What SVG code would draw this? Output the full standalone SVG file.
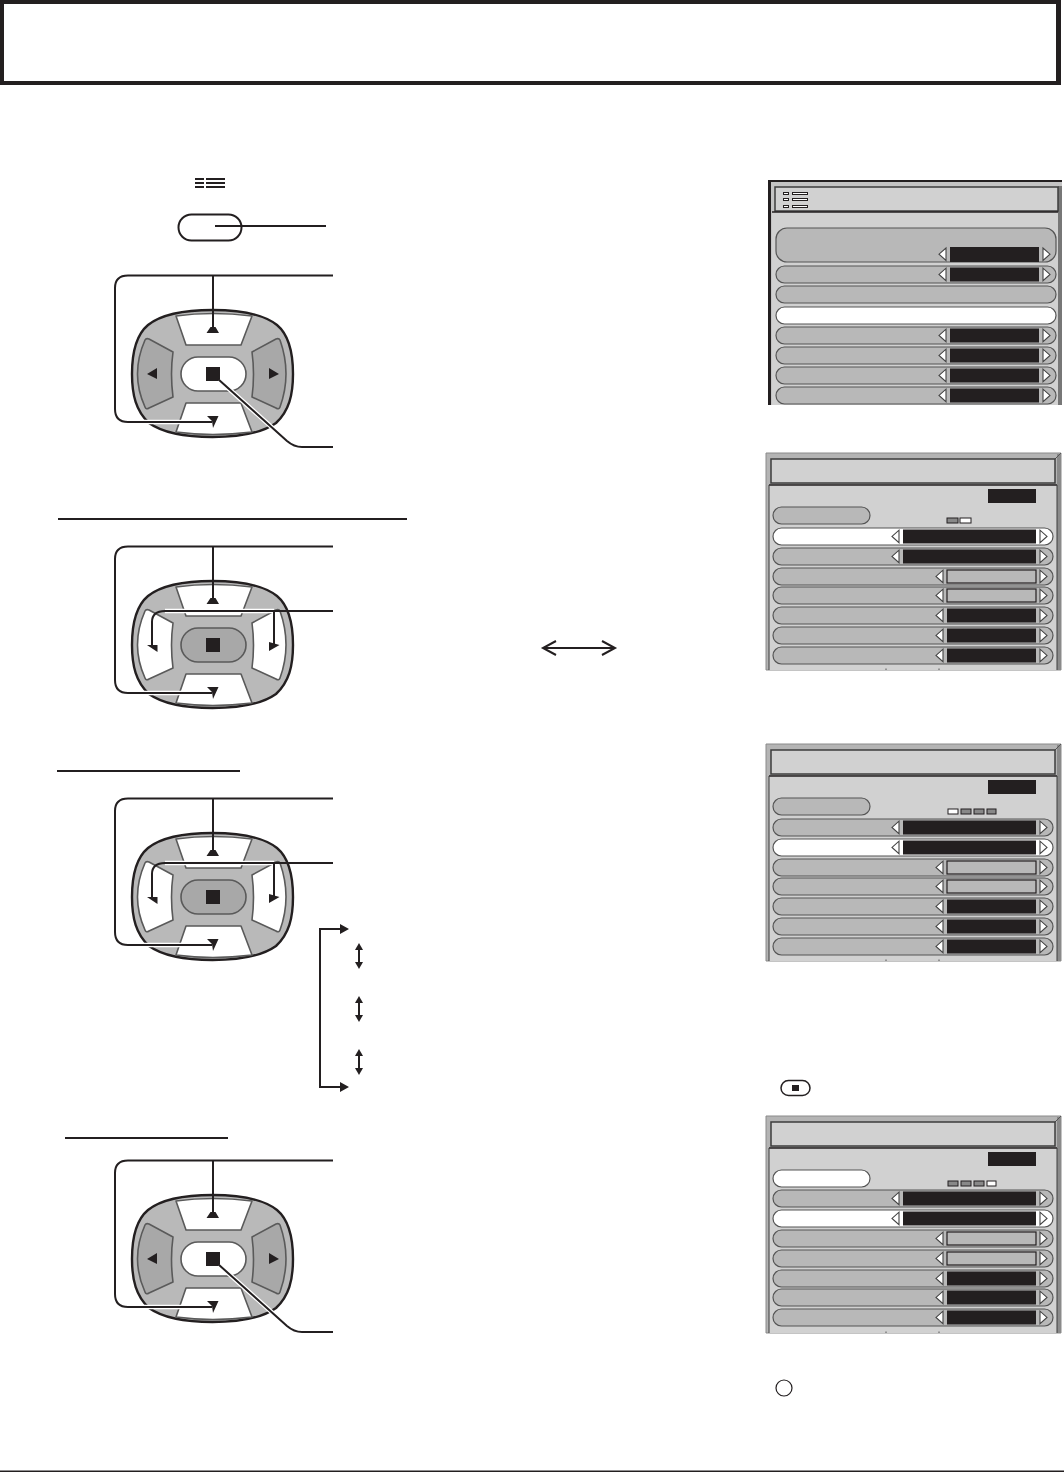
<svg xmlns="http://www.w3.org/2000/svg" width="1064" height="1472" viewBox="0 0 1064 1472">
<style>
.k{fill:#231f20}
.ln{fill:none;stroke:#231f20;stroke-width:2;stroke-linecap:butt}
.halo{fill:none;stroke:#fff;stroke-width:4.500}
.btn{stroke:#5a5a5a;stroke-width:1.600;stroke-linejoin:round}
.w{fill:#fff}
.g{fill:#a8a8a8}
.shell{fill:#b9b9b9;stroke:#231f20;stroke-width:2.400}
.body{fill:#d1d1d1}
.band{fill:#b4b4b4;stroke:#8a8a8a;stroke-width:1}
.title{fill:#d1d1d1;stroke:#3c3c3c;stroke-width:1.500}
.row{fill:#b8b8b8;stroke:#555;stroke-width:1.200}
.rowW{fill:#fff;stroke:#555;stroke-width:1.200}
.arr{fill:#fff;stroke:#444;stroke-width:1.100}
.out{fill:#b8b8b8;stroke:#231f20;stroke-width:1.200}
</style>
<defs>
<path id="shellP" class="shell" d="M212.500 310C238 310 262 313 277 325C289 335 293 354 293 374C293 395 289 411 276 423C262 433 238 437 212.500 437C187 437 163 433 149 423C136 411 132 395 132 374C132 354 136 335 148 325C163 313 187 310 212.500 310Z"/>
<path id="upP" d="M176 316Q212 311 252 316L241 345H186Z"/>
<path id="dnP" d="M186 403H241L252 432Q212 437 176 432Z"/>
<path id="ltP" d="M145 340Q146 338 149 339L173 352Q170 374 173 397L149 408Q146 410 145 407Q130 374 145 340Z"/>
<path id="rtP" d="M280 340Q279 338 276 339L252 352Q255 374 252 397L276 408Q279 410 280 407Q292 374 280 340Z"/>
<rect id="ctP" x="181" y="357" width="65" height="34" rx="17"/>
<g id="padA">
<use href="#shellP"/>
<use href="#upP" class="btn w"/><use href="#dnP" class="btn w"/>
<use href="#ltP" class="btn g"/><use href="#rtP" class="btn g"/>
<use href="#ctP" class="btn w"/>
<rect class="k" x="206" y="367" width="14" height="14"/>
<path class="k" d="M147 374L157 368V379Z M279 374L269 368V379Z"/>
</g>
<g id="padB">
<use href="#shellP"/>
<use href="#upP" class="btn w"/><use href="#dnP" class="btn w"/>
<use href="#ltP" class="btn w"/><use href="#rtP" class="btn w"/>
<use href="#ctP" class="btn g"/>
<rect class="k" x="206" y="367" width="14" height="14"/>
</g>
<g id="updn">
<path class="halo" d="M128 422H205"/>
<path class="ln" d="M333 275.500H128Q115 275.500 115 288V409Q115 422 128 422H212"/>
<path class="ln" d="M213 275.500V327"/>
<path class="k" d="M206.500 333H219L215.500 327H210.500Z M207 416H218.500L213 428L212 421Z"/>
</g>
<g id="lr">
<path class="halo" d="M165 611H274"/>
<path class="ln" d="M333 611H165Q152 611 152 622V646"/>
<path class="ln" d="M274 611V646"/>
<path class="k" d="M147 645L157.500 645V652Z M269 642V651L279.500 645Z"/>
</g>
<g id="ok">
<path class="halo" d="M219 380L286 440"/>
<path class="ln" d="M218 379L287 441Q294 447 302 447H333"/>
</g>
<path id="la" class="arr" d="M7 0V12.500L0 6.200Z"/>
<path id="ra" class="arr" d="M0 0V12.500L7 6.200Z"/>
<rect id="pg" class="row" width="280" height="17" rx="8.500"/>
<rect id="pw" class="rowW" width="280" height="17" rx="8.500"/>
<g id="vw"><use href="#la" x="119" y="2.200"/><rect class="k" x="130" y="1.500" width="133" height="14"/><use href="#ra" x="267" y="2.200"/></g>
<g id="vn"><use href="#la" x="163" y="2.200"/><rect class="k" x="174" y="1.500" width="89" height="14"/><use href="#ra" x="267" y="2.200"/></g>
<g id="vo"><use href="#la" x="163" y="2.200"/><rect class="out" x="174" y="2" width="89" height="13"/><use href="#ra" x="267" y="2.200"/></g>
<g id="frame">
<path class="band" d="M766 453H1061V670H766Z"/>
<rect x="1057" y="454" width="4" height="216" fill="#8a8a8a"/>
<path d="M1055 459L1061 453" stroke="#555" stroke-width="1" fill="none"/>
<rect class="title" x="771" y="459" width="284" height="24"/>
<rect class="body" x="769" y="485" width="288" height="185"/>
<path d="M769 485H1057" stroke="#231f20" stroke-width="1.500" fill="none"/>
<path d="M769 485V670M1057 485V670" stroke="#3c3c3c" stroke-width="1" fill="none"/>
<rect class="k" x="988" y="489" width="48" height="14"/>
<path d="M886 668.500V670M939 668.500V670" stroke="#555" stroke-width="1" fill="none"/>
</g>
<path id="arrU" class="k" d="M-4 7L0 0L4 7Z"/>
<path id="arrD" class="k" d="M-4 -7L0 0L4 -7Z"/>
</defs>
<rect width="1064" height="1472" fill="#fff"/>
<g id="header"><path class="k" fill-rule="evenodd" d="M0 0H1061V85H0Z M4 4V81H1056V4Z"/></g>
<g id="menu-button">
<g fill="#231f20"><rect x="195" y="178" width="9" height="2"/><rect x="195" y="182" width="9" height="2"/><rect x="195" y="186" width="9" height="2"/><rect x="206" y="178" width="19" height="2"/><rect x="206" y="182" width="19" height="2"/><rect x="206" y="186" width="19" height="2"/></g>
<rect x="178.500" y="214.500" width="63" height="26" rx="13" fill="#fff" stroke="#231f20" stroke-width="2"/>
</g>
<g id="pad1"><use href="#padA"/></g>
<g id="pad2" transform="translate(0,271)"><use href="#padB"/></g>
<g id="pad3" transform="translate(0,523)"><use href="#padB"/></g>
<g id="pad4" transform="translate(0,885)"><use href="#padA"/></g>
<g id="rules" fill="#231f20">
<rect x="58" y="518" width="349" height="2"/>
<rect x="57" y="770" width="183" height="2"/>
<rect x="65" y="1137" width="163" height="2"/>
<rect x="0" y="1470.500" width="1064" height="1.500"/>
</g>
<g id="connectors">
<path class="ln" d="M215 226H326"/>
<use href="#updn"/><use href="#ok"/>
<use href="#updn" transform="translate(0,271)"/><use href="#lr"/>
<use href="#updn" transform="translate(0,523)"/><use href="#lr" transform="translate(0,252)"/>
<use href="#updn" transform="translate(0,885)"/><use href="#ok" transform="translate(0,885)"/>
<path class="ln" d="M342 929H320V1087H342"/>
<path class="k" d="M340 924L349 929L340 934Z M340 1082L349 1087L340 1092Z"/>
<g>
<path class="ln" d="M359 947V965"/><use href="#arrU" x="359" y="943"/><use href="#arrD" x="359" y="969"/>
<path class="ln" d="M359 1000V1018"/><use href="#arrU" x="359" y="996"/><use href="#arrD" x="359" y="1022"/>
<path class="ln" d="M359 1053V1071"/><use href="#arrU" x="359" y="1049"/><use href="#arrD" x="359" y="1075"/>
</g>
<path class="ln" d="M545 648H613" stroke-width="2.500"/>
<path class="ln" d="M556 641L543 648L556 655M602 641L615 648L602 655"/>
</g>
<g id="menu1">
<path d="M768 180H1062V405H768Z" fill="#c4c4c4"/>
<rect x="1058" y="186" width="4" height="219" fill="#777"/>
<rect x="768" y="180" width="294" height="2" fill="#231f20"/>
<rect x="768" y="180" width="3" height="225" fill="#231f20"/>
<rect class="title" x="775" y="187" width="283" height="24"/>
<rect class="body" x="772" y="212" width="286" height="193"/>
<path d="M772 212H1058" stroke="#231f20" stroke-width="1.500"/>
<g fill="#fff" stroke="#231f20" stroke-width="1"><rect x="783.500" y="192.500" width="5" height="2"/><rect x="783.500" y="198.500" width="5" height="2"/><rect x="783.500" y="205.500" width="5" height="2"/><rect x="792.500" y="192.500" width="15" height="2"/><rect x="792.500" y="198.500" width="15" height="2"/><rect x="792.500" y="205.500" width="15" height="2"/></g>
<rect class="row" x="776" y="228" width="280" height="34" rx="11"/>
<rect class="k" x="950" y="247" width="89" height="15"/><use href="#la" x="939" y="248"/><use href="#ra" x="1043" y="248"/>
<g transform="translate(776,266)"><use href="#pg"/><use href="#vn"/></g>
<g transform="translate(776,286)"><use href="#pg"/></g>
<g transform="translate(776,307)"><use href="#pw"/></g>
<g transform="translate(776,327)"><use href="#pg"/><use href="#vn"/></g>
<g transform="translate(776,347)"><use href="#pg"/><use href="#vn"/></g>
<g transform="translate(776,367)"><use href="#pg"/><use href="#vn"/></g>
<g transform="translate(776,387)"><use href="#pg"/><use href="#vn"/></g>
</g>
<g id="menu2">
<use href="#frame"/>
<rect class="row" x="773" y="507" width="97" height="17" rx="8.500"/>
<rect x="947" y="518" width="11" height="5" fill="#888" stroke="#231f20"/><rect x="960" y="518" width="11" height="5" fill="#fff" stroke="#231f20"/>
<g transform="translate(773,528)"><use href="#pw"/><use href="#vw"/></g>
<g transform="translate(773,548)"><use href="#pg"/><use href="#vw"/></g>
<g transform="translate(773,568)"><use href="#pg"/><use href="#vo"/></g>
<g transform="translate(773,587)"><use href="#pg"/><use href="#vo"/></g>
<g transform="translate(773,607)"><use href="#pg"/><use href="#vn"/></g>
<g transform="translate(773,627)"><use href="#pg"/><use href="#vn"/></g>
<g transform="translate(773,647)"><use href="#pg"/><use href="#vn"/></g>
</g>
<g id="menu3" transform="translate(0,291)">
<use href="#frame"/>
<rect class="row" x="773" y="507" width="97" height="17" rx="8.500"/>
<g stroke="#231f20"><rect x="948" y="518" width="10" height="5" fill="#fff"/><rect x="961" y="518" width="10" height="5" fill="#888"/><rect x="974" y="518" width="10" height="5" fill="#888"/><rect x="987" y="518" width="9" height="5" fill="#888"/></g>
<g transform="translate(773,528)"><use href="#pg"/><use href="#vw"/></g>
<g transform="translate(773,548)"><use href="#pw"/><use href="#vw"/></g>
<g transform="translate(773,568)"><use href="#pg"/><use href="#vo"/></g>
<g transform="translate(773,587)"><use href="#pg"/><use href="#vo"/></g>
<g transform="translate(773,607)"><use href="#pg"/><use href="#vn"/></g>
<g transform="translate(773,627)"><use href="#pg"/><use href="#vn"/></g>
<g transform="translate(773,647)"><use href="#pg"/><use href="#vn"/></g>
</g>
<g id="menu4" transform="translate(0,663)">
<use href="#frame"/>
<rect class="rowW" x="773" y="507" width="97" height="17" rx="8.500"/>
<g stroke="#231f20"><rect x="948" y="518" width="10" height="5" fill="#888"/><rect x="961" y="518" width="10" height="5" fill="#888"/><rect x="974" y="518" width="10" height="5" fill="#888"/><rect x="987" y="518" width="9" height="5" fill="#fff"/></g>
<g transform="translate(773,527)"><use href="#pg"/><use href="#vw"/></g>
<g transform="translate(773,547)"><use href="#pw"/><use href="#vw"/></g>
<g transform="translate(773,567)"><use href="#pg"/><use href="#vo"/></g>
<g transform="translate(773,587)"><use href="#pg"/><use href="#vo"/></g>
<g transform="translate(773,607)"><use href="#pg"/><use href="#vn"/></g>
<g transform="translate(773,626)"><use href="#pg"/><use href="#vn"/></g>
<g transform="translate(773,646)"><use href="#pg"/><use href="#vn"/></g>
</g>
<g id="ok-icon">
<rect x="781" y="1080.500" width="29" height="15" rx="7.500" fill="#fff" stroke="#231f20" stroke-width="1.500"/>
<rect class="k" x="792" y="1085" width="7" height="6"/>
</g>
<circle id="note-mark" cx="784" cy="1388" r="8" fill="#fff" stroke="#231f20" stroke-width="1.200"/>
</svg>
